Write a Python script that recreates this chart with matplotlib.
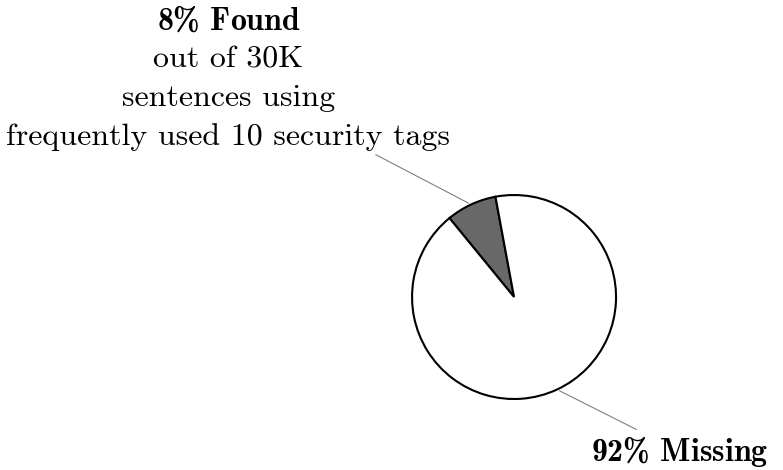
import matplotlib
matplotlib.use("Agg")
import matplotlib.pyplot as plt
import numpy as np

# data
labels = ["Found", "Missing"]
shares = [8, 92]
colors = ["#686868", "white"]
label_texts = [
    r"$\mathbf{8\%\ Found}$" + "\nout of 30K\nsentences using\nfrequently used 10 security tags",
    r"$\mathbf{92\%\ Missing}$",
]
text_pos = [(-2.80, 2.15), (1.62, -1.51)]

plt.rcParams["mathtext.fontset"] = "custom"
plt.rcParams["mathtext.rm"] = "cmr10"
plt.rcParams["mathtext.bf"] = "cmb10"
plt.rcParams["font.family"] = "cmr10"

fig = plt.figure(figsize=(7.83, 4.70), dpi=100)
ax = fig.add_axes([0, 0, 1, 1])

wedges, _ = ax.pie(shares, colors=colors, startangle=100.5, counterclock=True,
                   wedgeprops=dict(edgecolor="black", linewidth=1.5))

# annotate each slice from the middle of its wedge
for w, txt, pos in zip(wedges, label_texts, text_pos):
    ang = np.deg2rad((w.theta1 + w.theta2) / 2)
    ax.annotate(txt, xy=(np.cos(ang), np.sin(ang)), xytext=pos,
                ha="center", va="center", multialignment="center",
                fontsize=23, linespacing=1.5,
                arrowprops=dict(arrowstyle="-", color="gray", lw=0.8))

ax.set_xlim(-5.04, 2.637)
ax.set_ylim(-1.696, 2.912)
ax.set_aspect("equal")
ax.axis("off")

fig.savefig("out.png", dpi=100)
